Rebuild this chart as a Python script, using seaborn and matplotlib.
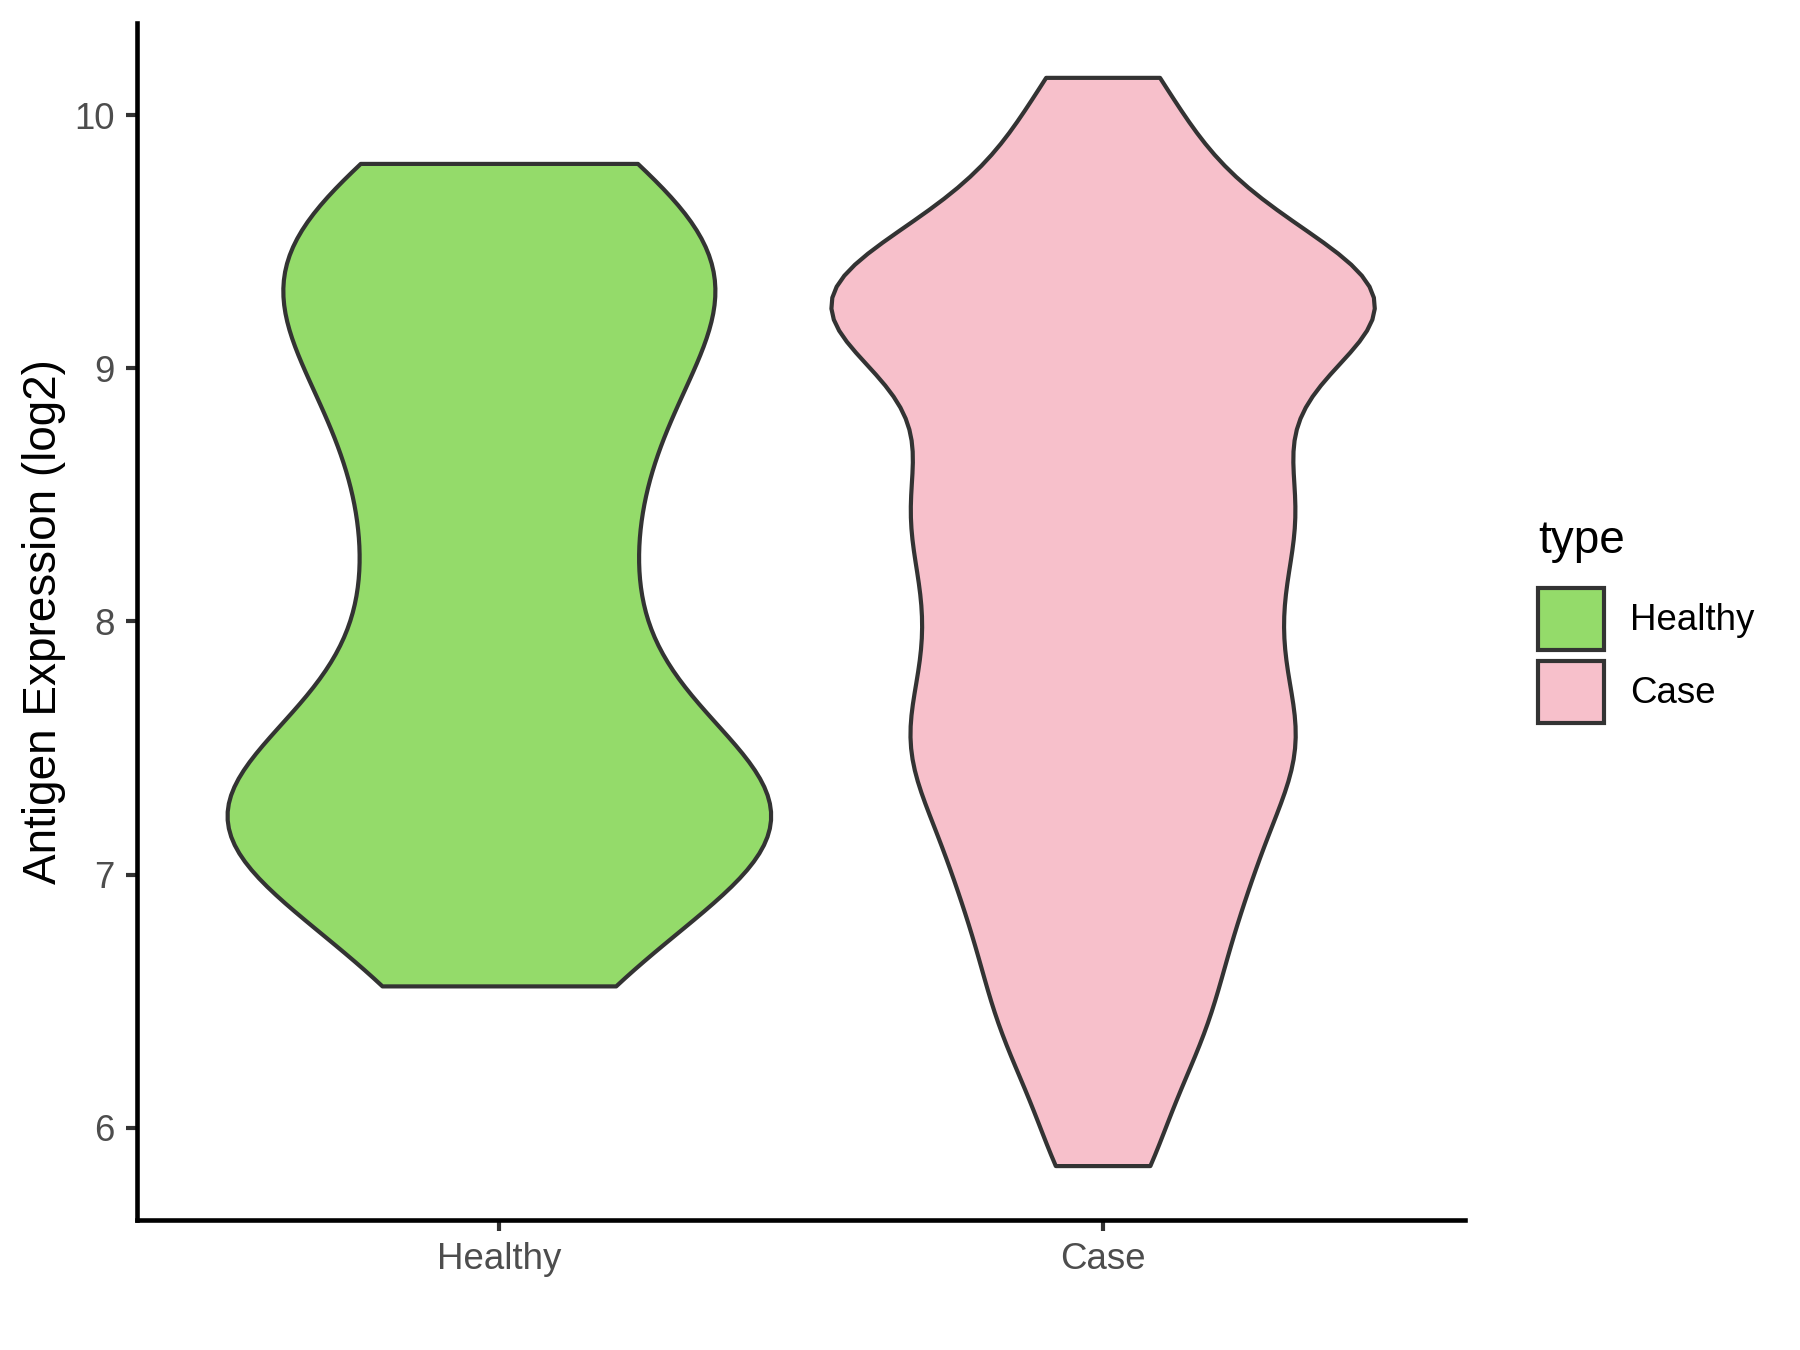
import pandas as pd
import numpy as np
import matplotlib.pyplot as plt
import seaborn as sns
from matplotlib.patches import Patch

# 数据（从图中估计的样本值）
groups = ["Healthy", "Case"]
colors = {"Healthy": "#94DB6A", "Case": "#F7C0CB"}

healthy_values = [6.56, 6.95, 7.1, 7.2, 7.3, 7.4, 7.7, 8.05, 8.4, 8.75,
                  9.0, 9.25, 9.4, 9.55, 9.81]
case_values = [5.85, 6.15, 6.35, 6.5, 6.65, 6.8, 6.92, 7.04, 7.15, 7.26,
               7.36, 7.45, 7.53, 7.6, 7.7, 7.8, 7.9, 8.0, 8.1, 8.2,
               8.3, 8.4, 8.45, 8.55, 8.65, 8.75, 8.85, 8.95, 9.05, 9.12,
               9.18, 9.22, 9.27, 9.32, 9.37, 9.42, 9.5, 9.6, 9.75, 9.9,
               10.15]

# 每组的带宽（乘以标准差）
bw = {"Healthy": 0.33, "Case": 0.2}

df = pd.DataFrame({
    "type": ["Healthy"] * len(healthy_values) + ["Case"] * len(case_values),
    "value": healthy_values + case_values,
})

plt.rcParams["font.family"] = ["Liberation Sans", "DejaVu Sans"]

fig = plt.figure(figsize=(6, 4.5), dpi=300)
ax = fig.add_axes([0.0759, 0.0963, 0.8138 - 0.0759, 0.983 - 0.0963])

for g in groups:
    sns.violinplot(
        data=df[df["type"] == g], x="type", y="value", order=groups,
        hue="type", hue_order=groups, palette=colors, legend=False,
        cut=0, inner=None, density_norm="width", width=0.9,
        bw_method=bw[g], linewidth=1.0, linecolor="#333333",
        saturation=1, ax=ax,
    )

ax.set_xlim(-0.6, 1.6)
ax.set_ylim(5.635, 10.365)
ax.set_yticks([6, 7, 8, 9, 10])
ax.set_xlabel("")
ax.set_ylabel("Antigen Expression (log2)", fontsize=11, color="black", labelpad=2)
ax.tick_params(axis="both", labelsize=8.8, labelcolor="#4D4D4D", color="#333333",
               width=1.0, length=2.75, pad=2.5)
for s in ["top", "right"]:
    ax.spines[s].set_visible(False)
for s in ["left", "bottom"]:
    ax.spines[s].set_linewidth(1.1)
    ax.spines[s].set_color("black")

handles = [Patch(facecolor=colors[g], edgecolor="#333333", linewidth=1.0, label=g) for g in groups]
leg = fig.legend(handles=handles, title="type", loc="center left",
                 bbox_to_anchor=(0.8445, 0.54), frameon=False, fontsize=8.8,
                 title_fontsize=11, handlelength=1.8, handleheight=2.22,
                 handletextpad=0.7, labelspacing=0.3, borderpad=0,
                 alignment="left")
leg._legend_box.sep = 6

fig.savefig("out.png", dpi=300)
